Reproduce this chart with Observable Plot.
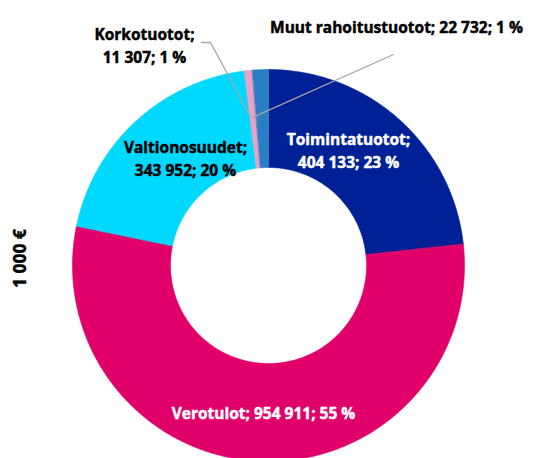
<!DOCTYPE html>
<html><head><meta charset="utf-8">
<script src="https://cdn.jsdelivr.net/npm/d3@7"></script>
<script src="https://cdn.jsdelivr.net/npm/@observablehq/plot@0.6"></script>
<style>body{margin:0;background:#fff}</style>
</head><body><div id="chart"></div>
<script>
const categories = ["Toimintatuotot", "Verotulot", "Valtionosuudet", "Korkotuotot", "Muut rahoitustuotot"];
const values = [404133, 954911, 343952, 11307, 22732];
const percents = ["23 %", "55 %", "20 %", "1 %", "1 %"];
const valueLabels = ["404 133", "954 911", "343 952", "11 307", "22 732"];
const colors = ["#002096", "#E1006A", "#00D9FF", "#EBA0C5", "#2A7EC3"];
const axisTitle = "1 000 €";

// layout (pixel geometry of the donut)
const W = 542, H = 458, CX = 268, CY = 265, R = 196, r0 = 98 / 196;
const toU = px => (px - CX) / R, toV = py => (CY - py) / R;

const total = d3.sum(values);
const slices = [];
let acc = 0;
categories.forEach((c, i) => {
  const a0 = acc / total * 2 * Math.PI, a1 = (acc + values[i]) / total * 2 * Math.PI;
  acc += values[i];
  const n = Math.max(4, Math.ceil((a1 - a0) / 0.01));
  const pts = [];
  for (let k = 0; k <= n; k++) { const a = a0 + (a1 - a0) * k / n; pts.push({name: c, x: Math.sin(a), y: Math.cos(a)}); }
  for (let k = n; k >= 0; k--) { const a = a0 + (a1 - a0) * k / n; pts.push({name: c, x: r0 * Math.sin(a), y: r0 * Math.cos(a)}); }
  slices.push(...pts);
});

const labelLayout = [
  {i: 0, px: 348, py: 149, two: true, fill: "white"},
  {i: 1, px: 263, py: 411, two: false, fill: "white"},
  {i: 2, px: 185, py: 157, two: true, fill: "black"},
  {i: 3, px: 144, py: 44, two: true, fill: "black"},
  {i: 4, px: 396, py: 25, two: false, fill: "black"}
];
const labels = labelLayout.map(l => ({
  x: toU(l.px), y: toV(l.py), fill: l.fill,
  text: categories[l.i] + ";" + (l.two ? "\n" : " ") + valueLabels[l.i] + "; " + percents[l.i]
}));
const leaders = [
  {id: "k", pts: [[201, 42], [210, 42], [250, 116]]},
  {id: "m", pts: [[393, 54], [252, 117]]}
].flatMap(d => d.pts.map(p => ({id: d.id, x: toU(p[0]), y: toV(p[1])})));

const chart = Plot.plot({
  width: W, height: H, margin: 0,
  x: {domain: [toU(0), toU(W)], axis: null},
  y: {domain: [toV(H), toV(0)], axis: null},
  color: {domain: categories, range: colors},
  style: {fontFamily: "'Open Sans', sans-serif", background: "white"},
  marks: [
    Plot.line(slices, {x: "x", y: "y", z: "name", fill: "name", stroke: "name", strokeWidth: 0.6, curve: "linear-closed"}),
    Plot.line(leaders, {x: "x", y: "y", z: "id", stroke: "#A6A6A6", strokeWidth: 1.3}),
    Plot.text(labels, {x: "x", y: "y", text: "text", fill: d => d.fill, stroke: d => d.fill, strokeWidth: 0.45, fontSize: 15.5, fontWeight: "bold", lineHeight: 1.45}),
    Plot.text([axisTitle], {x: toU(20), y: toV(258), text: d => d, rotate: -90, fontSize: 17.5, fontWeight: "bold", fill: "black", stroke: "black", strokeWidth: 0.45})
  ]
});
document.getElementById("chart").appendChild(chart);
</script></body></html>
